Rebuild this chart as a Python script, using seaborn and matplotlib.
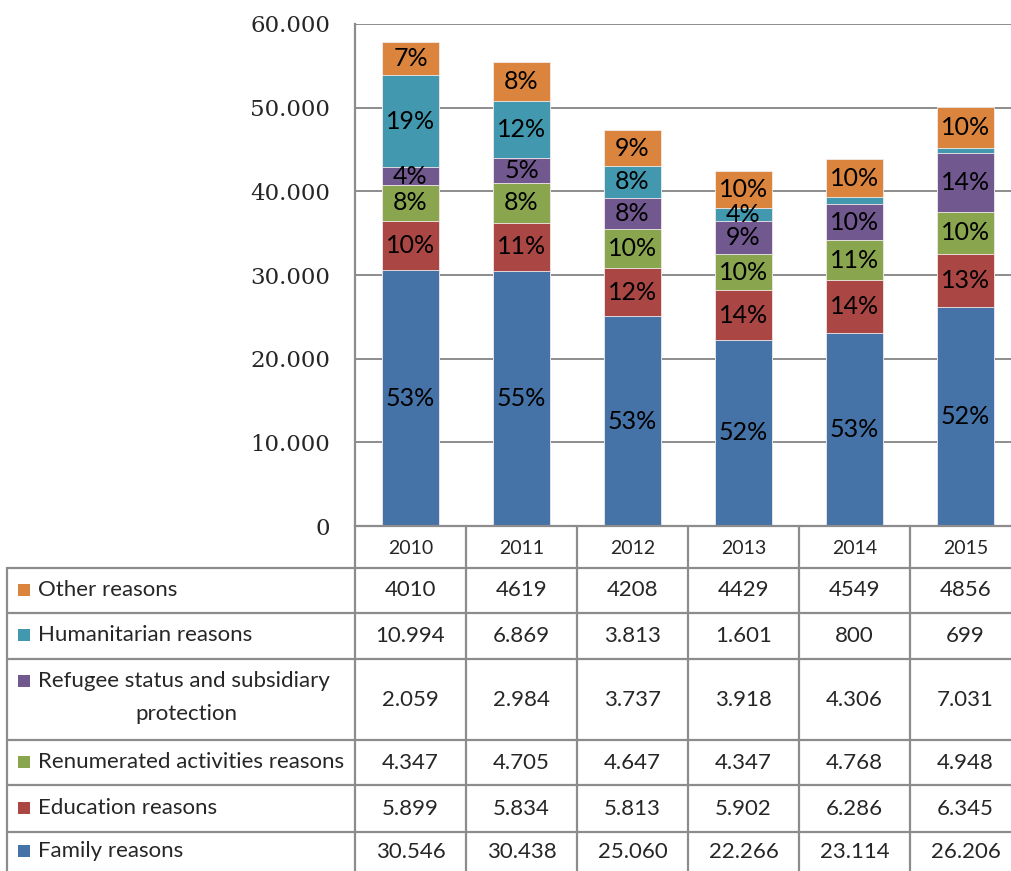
import matplotlib
matplotlib.use("Agg")
import matplotlib.pyplot as plt
from matplotlib.lines import Line2D
from matplotlib.patches import Rectangle
import seaborn as sns
import numpy as np

years = ["2010", "2011", "2012", "2013", "2014", "2015"]

# bottom to top
reasons = ["Family reasons", "Education reasons", "Renumerated activities reasons",
           "Refugee status and subsidiary protection", "Humanitarian reasons", "Other reasons"]
family = [30546, 30438, 25060, 22266, 23114, 26206]
education = [5899, 5834, 5813, 5902, 6286, 6345]
renumerated = [4347, 4705, 4647, 4347, 4768, 4948]
refugee = [2059, 2984, 3737, 3918, 4306, 7031]
humanitarian = [10994, 6869, 3813, 1601, 800, 699]
other = [4010, 4619, 4208, 4429, 4549, 4856]
colors = ["#4572A7", "#AA4643", "#89A54E", "#71588F", "#4198AF", "#DB843D"]

yticks = [0, 10000, 20000, 30000, 40000, 50000, 60000]

series = [family, education, renumerated, refugee, humanitarian, other]
vals = np.array(series, dtype=float)
cum = np.cumsum(vals, axis=0)
totals = cum[-1]

sns.set_style("white")
plt.rcParams["font.family"] = ["Lato", "DejaVu Sans"]

W, H = 1012, 871
fig = plt.figure(figsize=(W / 100, H / 100), dpi=100)


def fx(x):
    return x / W


def fy(y):
    return 1 - y / H


ax = fig.add_axes([fx(355), fy(526), fx(1021) - fx(355), fy(24) - fy(526)])
ax.set_axisbelow(True)
ax.yaxis.grid(True, color="#8c8c8c", lw=1.4)
ax.xaxis.grid(False)

# stacked bars: draw cumulative heights from top layer down
for i in range(len(series) - 1, -1, -1):
    sns.barplot(x=years, y=cum[i], color=colors[i], saturation=1, width=0.51,
                edgecolor="#f3ecec", linewidth=0.6, ax=ax)

for j in range(len(years)):
    for i in range(len(series)):
        pct = vals[i, j] / totals[j] * 100
        if pct < 2.5:
            continue
        mid = cum[i, j] - vals[i, j] / 2
        ax.text(j, mid, f"{pct:.0f}%", ha="center", va="center", fontsize=18, color="black")

ax.set_xlim(-0.5, 5.5)
ax.set_ylim(0, 60000)
ax.set_yticks(yticks)
ax.set_yticklabels([f"{v:,}".replace(",", ".") for v in yticks],
                   family="DejaVu Serif", fontsize=16.5)
ax.tick_params(axis="y", length=0, pad=18)
ax.set_xticks([])
ax.set_xlabel("")
ax.set_ylabel("")
for s in ["top", "right"]:
    ax.spines[s].set_visible(False)
for s in ["left", "bottom"]:
    ax.spines[s].set_color("#8c8c8c")
    ax.spines[s].set_linewidth(1.6)

# data table below the chart
line_c = "#8c8c8c"
col_edges = [355, 466, 577, 688, 799, 910, 1021]
row_edges = [526, 568, 613, 659, 740, 785, 832, 871]


def hline(y, x0, x1):
    fig.add_artist(Line2D([fx(x0), fx(x1)], [fy(y), fy(y)], color=line_c, lw=1.6))


def vline(x, y0, y1):
    fig.add_artist(Line2D([fx(x), fx(x)], [fy(y0), fy(y1)], color=line_c, lw=1.6))


for y in row_edges[1:-1]:
    hline(y, 7, 1021)
for x in col_edges:
    vline(x, 526, 871)
vline(7, 568, 871)

for j, yr in enumerate(years):
    cx = (col_edges[j] + col_edges[j + 1]) / 2
    fig.text(fx(cx), fy(548), yr, ha="center", va="center", fontsize=14)

# table rows top to bottom
row_order = [5, 4, 3, 2, 1, 0]
for r, i in enumerate(row_order):
    y0, y1 = row_edges[r + 1], row_edges[r + 2]
    cy = (y0 + y1) / 2
    if i == 3:
        ly = 681
        fig.text(fx(38), fy(ly), "Refugee status and subsidiary", ha="left", va="center", fontsize=16)
        fig.text(fx(186), fy(714), "protection", ha="center", va="center", fontsize=16)
    else:
        ly = cy - 1
        fig.text(fx(38), fy(ly), reasons[i], ha="left", va="center", fontsize=16)
    fig.add_artist(Rectangle((fx(18), fy(ly + 6)), fx(12), fy(0) - fy(12),
                             facecolor=colors[i], edgecolor="none"))
    for j in range(len(years)):
        v = series[i][j]
        s = str(v) if i == 5 else f"{v:,}".replace(",", ".")
        cx = (col_edges[j] + col_edges[j + 1]) / 2
        fig.text(fx(cx), fy(cy), s, ha="center", va="center", fontsize=16)

fig.savefig("out.png", dpi=100)
